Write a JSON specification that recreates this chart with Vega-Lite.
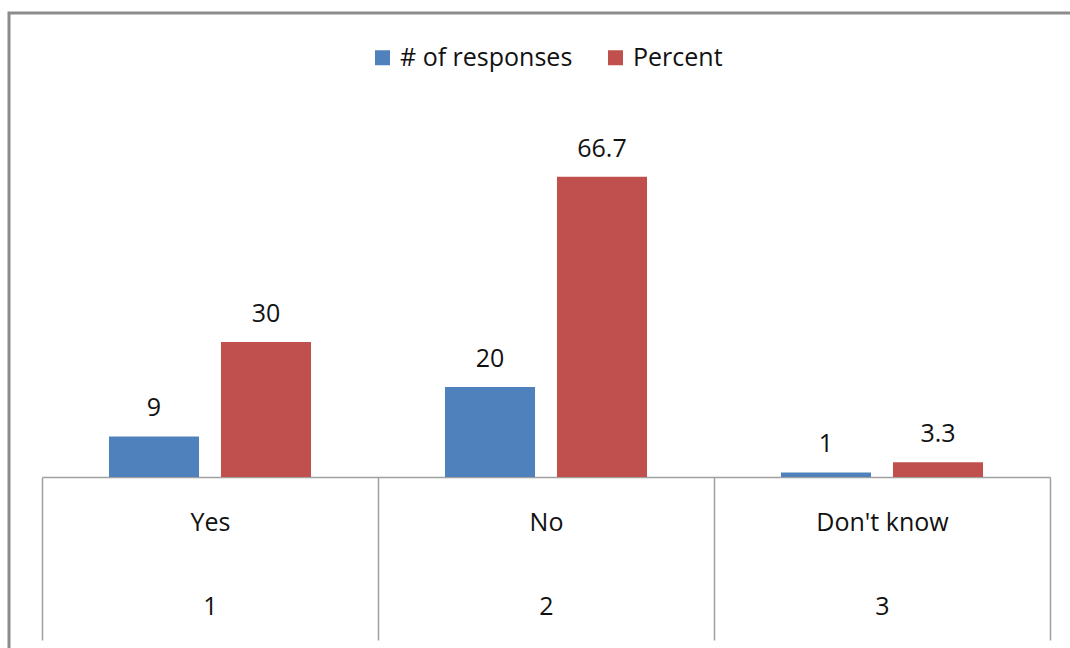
{
  "$schema": "https://vega.github.io/schema/vega-lite/v6.json",
  "width": 1074,
  "height": 689,
  "autosize": {"type": "none"},
  "padding": {"left": 9, "top": 13, "right": -13, "bottom": -54},
  "background": "white",
  "config": {
    "view": {"stroke": "#8c8c8c", "strokeWidth": 3, "fill": "white"},
    "font": "Open Sans"
  },
  "data": {
    "values": [
      {"answer": "Yes", "code": 1, "series": "# of responses", "value": 9},
      {"answer": "Yes", "code": 1, "series": "Percent", "value": 30},
      {"answer": "No", "code": 2, "series": "# of responses", "value": 20},
      {"answer": "No", "code": 2, "series": "Percent", "value": 66.7},
      {"answer": "Don't know", "code": 3, "series": "# of responses", "value": 1},
      {"answer": "Don't know", "code": 3, "series": "Percent", "value": 3.3}
    ]
  },
  "transform": [{"calculate": "datum.answer + '|' + datum.code", "as": "key"}],
  "encoding": {
    "x": {
      "field": "key",
      "type": "nominal",
      "sort": null,
      "scale": {"range": [33, 1041], "paddingInner": 0, "paddingOuter": 0},
      "axis": {
        "orient": "bottom",
        "offset": -225,
        "title": null,
        "domain": true,
        "domainColor": "#a0a0a0",
        "domainWidth": 1.5,
        "ticks": true,
        "tickBand": "extent",
        "tickSize": 163,
        "tickColor": "#a0a0a0",
        "tickWidth": 1.5,
        "labelExpr": "split(datum.label, '|')",
        "labelFont": "Open Sans",
        "labelFontSize": 25,
        "labelColor": "#111111",
        "labelLineHeight": 84,
        "labelBaseline": "middle",
        "labelPadding": -118,
        "labelAngle": 0,
        "labelFlush": false,
        "labelOverlap": false,
        "labelLimit": 400,
        "grid": false
      }
    },
    "xOffset": {
      "field": "series",
      "type": "nominal",
      "sort": ["# of responses", "Percent"],
      "scale": {"paddingInner": 0.196, "paddingOuter": 0.598}
    },
    "y": {
      "field": "value",
      "type": "quantitative",
      "scale": {"domain": [-50, 103.1111], "nice": false, "zero": false},
      "axis": null
    }
  },
  "layer": [
    {
      "mark": {"type": "bar"},
      "encoding": {
        "y2": {"datum": 0},
        "color": {
          "field": "series",
          "type": "nominal",
          "scale": {"domain": ["# of responses", "Percent"], "range": ["#4F81BD", "#C0504D"]},
          "legend": {
            "title": null,
            "orient": "none",
            "legendX": 361,
            "legendY": 32,
            "direction": "horizontal",
            "symbolType": "square",
            "symbolSize": 225,
            "symbolStrokeWidth": 0,
            "labelFont": "Open Sans",
            "labelFontSize": 25,
            "labelColor": "#111111",
            "labelLimit": 400,
            "columnPadding": 30,
            "labelOffset": 5
          }
        }
      }
    },
    {
      "mark": {"type": "text", "dy": -20, "baseline": "alphabetic", "fontSize": 25, "font": "Open Sans", "color": "#111111"},
      "encoding": {
        "text": {"field": "value", "type": "quantitative", "format": "~g"}
      }
    }
  ]
}
